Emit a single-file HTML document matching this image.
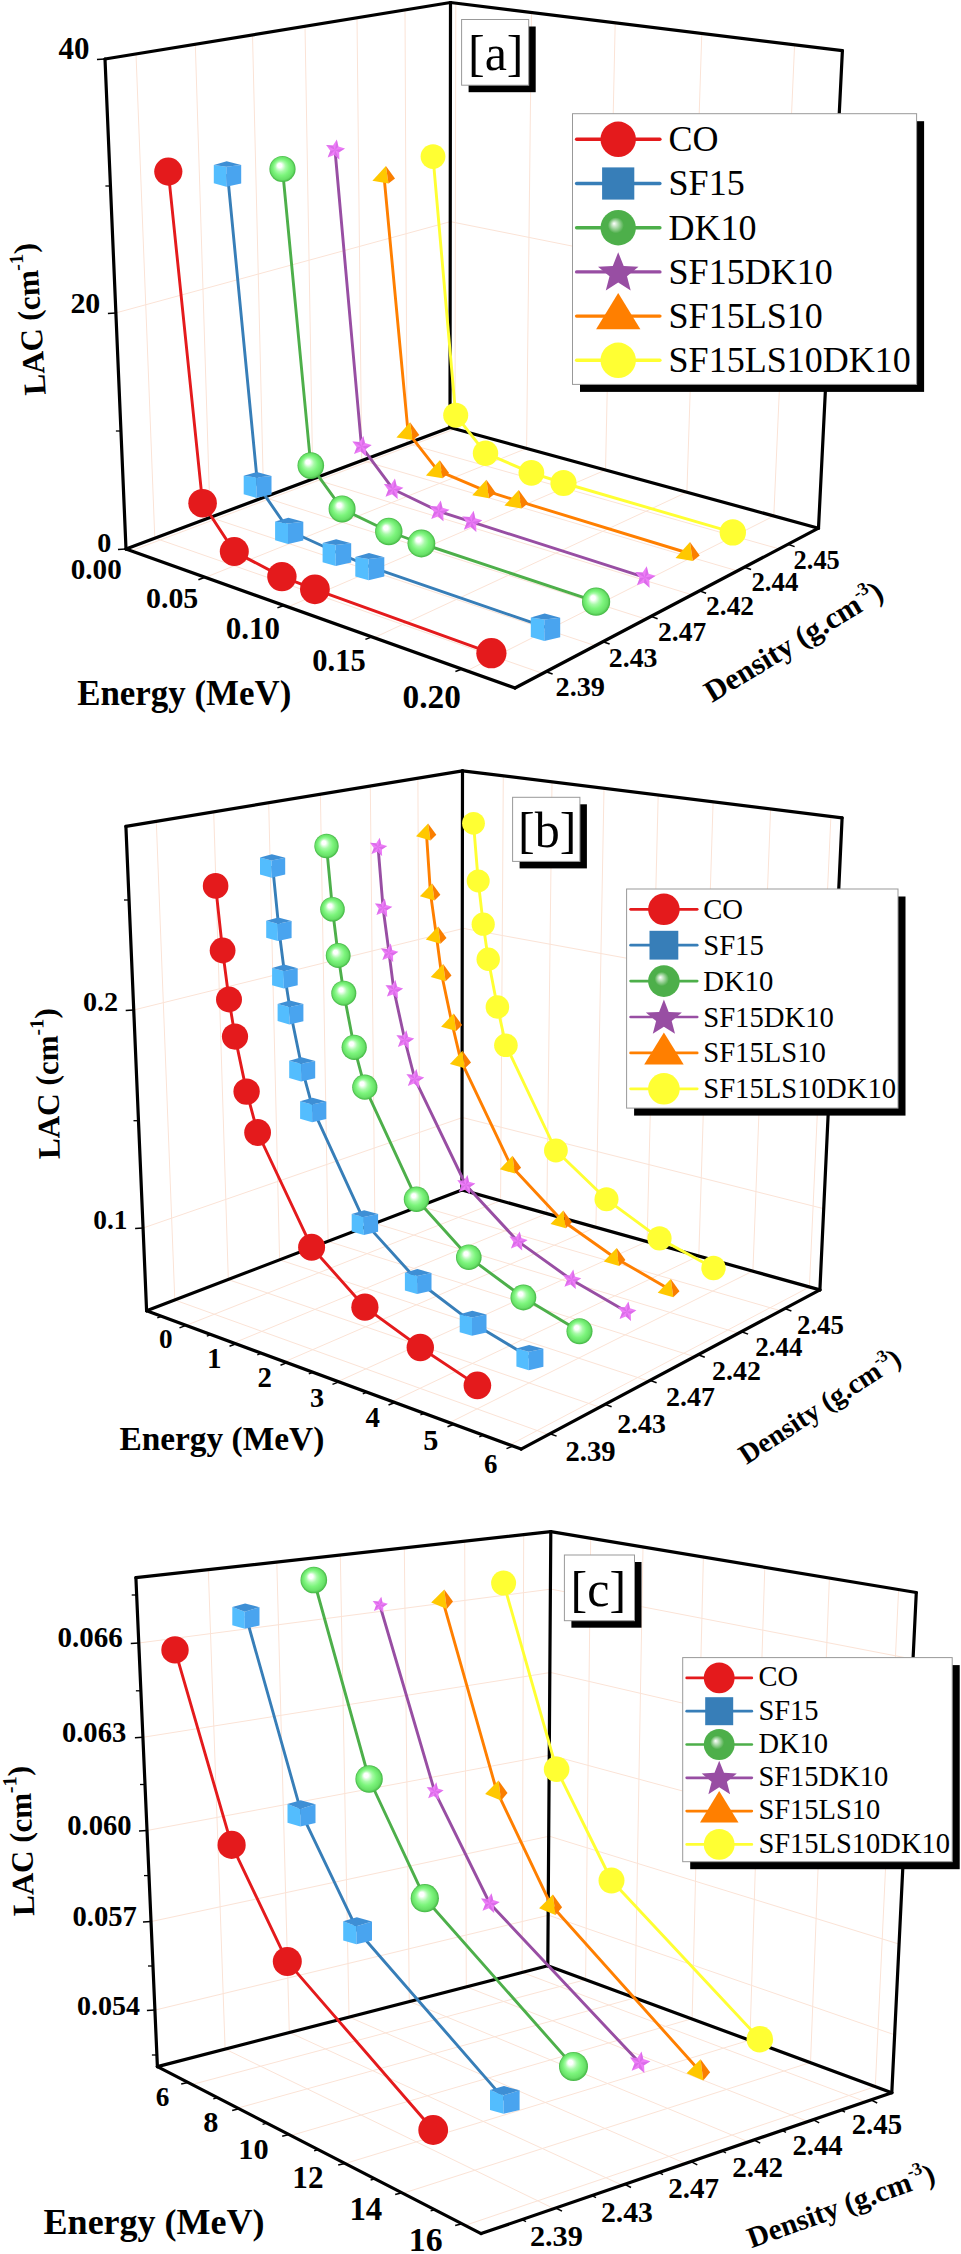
<!DOCTYPE html><html><head><meta charset="utf-8"><style>html,body{margin:0;padding:0;background:#fff;}svg{display:block;}</style></head><body><svg width="961" height="2254" viewBox="0 0 961 2254" style="font-family:&quot;Liberation Serif&quot;, serif">
<defs><radialGradient id="gs" cx="0.5" cy="0.5" r="0.5" fx="0.37" fy="0.34"><stop offset="0" stop-color="#ffffff"/><stop offset="0.16" stop-color="#ffffff"/><stop offset="0.4" stop-color="#A8FAA8"/><stop offset="0.62" stop-color="#7CF57C"/><stop offset="0.86" stop-color="#68E068"/><stop offset="1" stop-color="#42B542"/></radialGradient><radialGradient id="gl" cx="0.5" cy="0.5" r="0.5" fx="0.38" fy="0.38"><stop offset="0" stop-color="#ffffff"/><stop offset="0.22" stop-color="#A8D8A6"/><stop offset="0.45" stop-color="#4DAF4A"/><stop offset="1" stop-color="#4DAF4A"/></radialGradient></defs>
<rect width="961" height="2254" fill="#fff"/>
<line x1="131.2" y1="550.9" x2="455" y2="428.9" stroke="#FBE3D6" stroke-width="1" stroke-linecap="butt"/>
<line x1="455" y1="428.9" x2="455.8" y2="3.2" stroke="#FBE3D6" stroke-width="1" stroke-linecap="butt"/>
<line x1="205.5" y1="577.4" x2="526.6" y2="448.4" stroke="#FBE3D6" stroke-width="1" stroke-linecap="butt"/>
<line x1="526.6" y1="448.4" x2="531.5" y2="12.5" stroke="#FBE3D6" stroke-width="1" stroke-linecap="butt"/>
<line x1="288.1" y1="606.9" x2="605.5" y2="470" stroke="#FBE3D6" stroke-width="1" stroke-linecap="butt"/>
<line x1="605.5" y1="470" x2="615.2" y2="22.8" stroke="#FBE3D6" stroke-width="1" stroke-linecap="butt"/>
<line x1="374.1" y1="637.7" x2="686.9" y2="492.2" stroke="#FBE3D6" stroke-width="1" stroke-linecap="butt"/>
<line x1="686.9" y1="492.2" x2="701.8" y2="33.4" stroke="#FBE3D6" stroke-width="1" stroke-linecap="butt"/>
<line x1="466.9" y1="670.8" x2="773.8" y2="516" stroke="#FBE3D6" stroke-width="1" stroke-linecap="butt"/>
<line x1="773.8" y1="516" x2="794.6" y2="44.8" stroke="#FBE3D6" stroke-width="1" stroke-linecap="butt"/>
<line x1="154.9" y1="538.1" x2="542.7" y2="673.4" stroke="#FBE3D6" stroke-width="1" stroke-linecap="butt"/>
<line x1="154.8" y1="538.2" x2="136" y2="53.9" stroke="#FBE3D6" stroke-width="1" stroke-linecap="butt"/>
<line x1="210.4" y1="517.4" x2="595.3" y2="645.7" stroke="#FBE3D6" stroke-width="1" stroke-linecap="butt"/>
<line x1="210.1" y1="517.5" x2="195.3" y2="44.2" stroke="#FBE3D6" stroke-width="1" stroke-linecap="butt"/>
<line x1="264" y1="497.3" x2="645.9" y2="619.1" stroke="#FBE3D6" stroke-width="1" stroke-linecap="butt"/>
<line x1="263.6" y1="497.4" x2="252.5" y2="34.9" stroke="#FBE3D6" stroke-width="1" stroke-linecap="butt"/>
<line x1="313.2" y1="478.8" x2="692" y2="594.8" stroke="#FBE3D6" stroke-width="1" stroke-linecap="butt"/>
<line x1="312.8" y1="478.9" x2="305" y2="26.3" stroke="#FBE3D6" stroke-width="1" stroke-linecap="butt"/>
<line x1="362" y1="460.5" x2="737.4" y2="570.9" stroke="#FBE3D6" stroke-width="1" stroke-linecap="butt"/>
<line x1="361.7" y1="460.6" x2="357" y2="17.8" stroke="#FBE3D6" stroke-width="1" stroke-linecap="butt"/>
<line x1="407.2" y1="443.6" x2="779.1" y2="548.9" stroke="#FBE3D6" stroke-width="1" stroke-linecap="butt"/>
<line x1="407" y1="443.6" x2="405" y2="9.9" stroke="#FBE3D6" stroke-width="1" stroke-linecap="butt"/>
<line x1="105" y1="59" x2="450.5" y2="2.5" stroke="#FBE3D6" stroke-width="1" stroke-linecap="butt"/>
<line x1="450.5" y1="2.5" x2="842.4" y2="50.7" stroke="#FBE3D6" stroke-width="1" stroke-linecap="butt"/>
<line x1="115.9" y1="312.9" x2="450.2" y2="221.7" stroke="#FBE3D6" stroke-width="1" stroke-linecap="butt"/>
<line x1="450.2" y1="221.6" x2="830" y2="297.8" stroke="#FBE3D6" stroke-width="1" stroke-linecap="butt"/>
<line x1="126" y1="549" x2="450" y2="427.5" stroke="#FBE3D6" stroke-width="1" stroke-linecap="butt"/>
<line x1="450" y1="427.5" x2="818.5" y2="528.2" stroke="#FBE3D6" stroke-width="1" stroke-linecap="butt"/>
<line x1="105" y1="59" x2="97" y2="59.5" stroke="#000" stroke-width="1.5" stroke-linecap="butt"/>
<line x1="115.9" y1="312.9" x2="107.9" y2="313.4" stroke="#000" stroke-width="1.5" stroke-linecap="butt"/>
<line x1="126" y1="549" x2="118" y2="549.5" stroke="#000" stroke-width="1.5" stroke-linecap="butt"/>
<line x1="110.4" y1="186" x2="105.4" y2="186" stroke="#000" stroke-width="1.3" stroke-linecap="butt"/>
<line x1="120.9" y1="431" x2="115.9" y2="431" stroke="#000" stroke-width="1.3" stroke-linecap="butt"/>
<line x1="205" y1="577.2" x2="198.4" y2="579.7" stroke="#000" stroke-width="1.5" stroke-linecap="butt"/>
<line x1="284" y1="605.5" x2="277.4" y2="607.9" stroke="#000" stroke-width="1.5" stroke-linecap="butt"/>
<line x1="372" y1="636.9" x2="365.4" y2="639.4" stroke="#000" stroke-width="1.5" stroke-linecap="butt"/>
<line x1="462" y1="669.1" x2="455.4" y2="671.5" stroke="#000" stroke-width="1.5" stroke-linecap="butt"/>
<line x1="546" y1="671.7" x2="552.6" y2="674" stroke="#000" stroke-width="1.5" stroke-linecap="butt"/>
<line x1="603" y1="641.7" x2="609.6" y2="644" stroke="#000" stroke-width="1.5" stroke-linecap="butt"/>
<line x1="651" y1="616.4" x2="657.6" y2="618.7" stroke="#000" stroke-width="1.5" stroke-linecap="butt"/>
<line x1="699.5" y1="590.9" x2="706.1" y2="593.2" stroke="#000" stroke-width="1.5" stroke-linecap="butt"/>
<line x1="744.5" y1="567.2" x2="751.1" y2="569.5" stroke="#000" stroke-width="1.5" stroke-linecap="butt"/>
<line x1="788" y1="544.3" x2="794.6" y2="546.6" stroke="#000" stroke-width="1.5" stroke-linecap="butt"/>
<line x1="105" y1="59" x2="126" y2="549" stroke="#000" stroke-width="3.2" stroke-linecap="round"/>
<line x1="105" y1="59" x2="450.5" y2="2.5" stroke="#000" stroke-width="3.2" stroke-linecap="round"/>
<line x1="450.5" y1="2.5" x2="450" y2="427.5" stroke="#000" stroke-width="3.2" stroke-linecap="round"/>
<line x1="126" y1="549" x2="450" y2="427.5" stroke="#000" stroke-width="3.2" stroke-linecap="round"/>
<line x1="450.5" y1="2.5" x2="842.4" y2="50.7" stroke="#000" stroke-width="3.2" stroke-linecap="round"/>
<line x1="842.4" y1="50.7" x2="818.5" y2="528.2" stroke="#000" stroke-width="3.2" stroke-linecap="round"/>
<line x1="450" y1="427.5" x2="818.5" y2="528.2" stroke="#000" stroke-width="3.2" stroke-linecap="round"/>
<line x1="126" y1="549" x2="515" y2="688" stroke="#000" stroke-width="3.2" stroke-linecap="round"/>
<line x1="515" y1="688" x2="818.5" y2="528.2" stroke="#000" stroke-width="3.2" stroke-linecap="round"/>
<polyline points="433,156.6 455.7,415.2 485.5,453.2 531.4,472.8 563.5,483 732.8,532.4" fill="none" stroke="#FFFF33" stroke-width="2.9" stroke-linejoin="round"/>
<circle cx="433" cy="156.6" r="12.4" fill="#FFFF33"/>
<circle cx="455.7" cy="415.2" r="12.5" fill="#FFFF33"/>
<circle cx="485.5" cy="453.2" r="12.7" fill="#FFFF33"/>
<circle cx="531.4" cy="472.8" r="12.9" fill="#FFFF33"/>
<circle cx="563.5" cy="483" r="13.1" fill="#FFFF33"/>
<circle cx="732.8" cy="532.4" r="13.2" fill="#FFFF33"/>
<polyline points="384,176 408.1,432.6 437.8,470.6 484.4,490.4 516.7,500.6 687.9,553" fill="none" stroke="#FF7F00" stroke-width="2.9" stroke-linejoin="round"/>
<polygon points="385.9,165.9 372.4,180.7 388.5,183.4" fill="#FFC800"/>
<polygon points="385.9,165.9 388.5,183.4 395,178.4" fill="#FA7E00"/>
<polygon points="410.1,422.3 396.4,437.4 412.7,440.1" fill="#FFC800"/>
<polygon points="410.1,422.3 412.7,440.1 419.3,435" fill="#FA7E00"/>
<polygon points="439.8,460.2 425.9,475.5 442.5,478.2" fill="#FFC800"/>
<polygon points="439.8,460.2 442.5,478.2 449.1,473.1" fill="#FA7E00"/>
<polygon points="486.4,479.8 472.3,495.3 489.1,498.2" fill="#FFC800"/>
<polygon points="486.4,479.8 489.1,498.2 495.9,492.9" fill="#FA7E00"/>
<polygon points="518.7,489.9 504.4,505.6 521.5,508.5" fill="#FFC800"/>
<polygon points="518.7,489.9 521.5,508.5 528.3,503.2" fill="#FA7E00"/>
<polygon points="690,542.1 675.5,558.1 692.8,561" fill="#FFC800"/>
<polygon points="690,542.1 692.8,561 699.7,555.6" fill="#FA7E00"/>
<polyline points="335,150 361.5,446.6 393.1,489.2 438.9,511.3 471.7,521.9 644.8,577.4" fill="none" stroke="#984EA3" stroke-width="2.9" stroke-linejoin="round"/>
<polygon points="336.8,139.5 338.4,146.5 345,148.5 339.2,152.3 339.4,159.6 334.2,154.9 327.7,157.4 330.3,150.7 326.1,145 332.9,145.5" fill="#EE7DF8"/>
<polygon points="335,150 336.8,139.5 338.4,146.5" fill="#C458D6" opacity="0.45"/>
<polygon points="335,150 345,148.5 339.2,152.3" fill="#C458D6" opacity="0.45"/>
<polygon points="335,150 339.4,159.6 334.2,154.9" fill="#C458D6" opacity="0.45"/>
<polygon points="335,150 327.7,157.4 330.3,150.7" fill="#C458D6" opacity="0.45"/>
<polygon points="335,150 326.1,145 332.9,145.5" fill="#C458D6" opacity="0.45"/>
<polygon points="363.3,436 365,443.1 371.7,445.1 365.8,449 366,456.3 360.7,451.6 354.1,454.1 356.7,447.3 352.4,441.5 359.4,442" fill="#EE7DF8"/>
<polygon points="361.5,446.6 363.3,436 365,443.1" fill="#C458D6" opacity="0.45"/>
<polygon points="361.5,446.6 371.7,445.1 365.8,449" fill="#C458D6" opacity="0.45"/>
<polygon points="361.5,446.6 366,456.3 360.7,451.6" fill="#C458D6" opacity="0.45"/>
<polygon points="361.5,446.6 354.1,454.1 356.7,447.3" fill="#C458D6" opacity="0.45"/>
<polygon points="361.5,446.6 352.4,441.5 359.4,442" fill="#C458D6" opacity="0.45"/>
<polygon points="394.9,478.4 396.6,485.6 403.4,487.7 397.4,491.6 397.7,499 392.2,494.3 385.6,496.8 388.2,489.9 383.9,484.1 391,484.6" fill="#EE7DF8"/>
<polygon points="393.1,489.2 394.9,478.4 396.6,485.6" fill="#C458D6" opacity="0.45"/>
<polygon points="393.1,489.2 403.4,487.7 397.4,491.6" fill="#C458D6" opacity="0.45"/>
<polygon points="393.1,489.2 397.7,499 392.2,494.3" fill="#C458D6" opacity="0.45"/>
<polygon points="393.1,489.2 385.6,496.8 388.2,489.9" fill="#C458D6" opacity="0.45"/>
<polygon points="393.1,489.2 383.9,484.1 391,484.6" fill="#C458D6" opacity="0.45"/>
<polygon points="440.7,500.4 442.5,507.7 449.4,509.8 443.3,513.7 443.5,521.3 438,516.4 431.3,519 434,512 429.6,506.1 436.7,506.6" fill="#EE7DF8"/>
<polygon points="438.9,511.3 440.7,500.4 442.5,507.7" fill="#C458D6" opacity="0.45"/>
<polygon points="438.9,511.3 449.4,509.8 443.3,513.7" fill="#C458D6" opacity="0.45"/>
<polygon points="438.9,511.3 443.5,521.3 438,516.4" fill="#C458D6" opacity="0.45"/>
<polygon points="438.9,511.3 431.3,519 434,512" fill="#C458D6" opacity="0.45"/>
<polygon points="438.9,511.3 429.6,506.1 436.7,506.6" fill="#C458D6" opacity="0.45"/>
<polygon points="473.6,510.8 475.3,518.2 482.3,520.3 476.1,524.4 476.4,532 470.8,527.1 464,529.7 466.7,522.6 462.2,516.6 469.5,517.1" fill="#EE7DF8"/>
<polygon points="471.7,521.9 473.6,510.8 475.3,518.2" fill="#C458D6" opacity="0.45"/>
<polygon points="471.7,521.9 482.3,520.3 476.1,524.4" fill="#C458D6" opacity="0.45"/>
<polygon points="471.7,521.9 476.4,532 470.8,527.1" fill="#C458D6" opacity="0.45"/>
<polygon points="471.7,521.9 464,529.7 466.7,522.6" fill="#C458D6" opacity="0.45"/>
<polygon points="471.7,521.9 462.2,516.6 469.5,517.1" fill="#C458D6" opacity="0.45"/>
<polygon points="646.7,566.2 648.5,573.7 655.6,575.8 649.3,579.9 649.6,587.7 643.9,582.7 637,585.3 639.7,578.1 635.2,572 642.6,572.6" fill="#EE7DF8"/>
<polygon points="644.8,577.4 646.7,566.2 648.5,573.7" fill="#C458D6" opacity="0.45"/>
<polygon points="644.8,577.4 655.6,575.8 649.3,579.9" fill="#C458D6" opacity="0.45"/>
<polygon points="644.8,577.4 649.6,587.7 643.9,582.7" fill="#C458D6" opacity="0.45"/>
<polygon points="644.8,577.4 637,585.3 639.7,578.1" fill="#C458D6" opacity="0.45"/>
<polygon points="644.8,577.4 635.2,572 642.6,572.6" fill="#C458D6" opacity="0.45"/>
<polyline points="282.5,169 310.8,465.6 342.1,508.9 388.8,531.5 421.4,543.5 596.1,601.7" fill="none" stroke="#4DAF4A" stroke-width="2.9" stroke-linejoin="round"/>
<circle cx="282.5" cy="169" r="13.1" fill="url(#gs)"/>
<circle cx="310.8" cy="465.6" r="13.3" fill="url(#gs)"/>
<circle cx="342.1" cy="508.9" r="13.5" fill="url(#gs)"/>
<circle cx="388.8" cy="531.5" r="13.7" fill="url(#gs)"/>
<circle cx="421.4" cy="543.5" r="13.9" fill="url(#gs)"/>
<circle cx="596.1" cy="601.7" r="14.1" fill="url(#gs)"/>
<polyline points="227.5,174 257.6,484.9 289.2,530.8 336.9,552.5 369.8,566.6 545.5,627.2" fill="none" stroke="#377EB8" stroke-width="2.9" stroke-linejoin="round"/>
<polygon points="213.8,164.9 226.3,166.8 226.3,186.8 213.8,183.3" fill="#53BDFE"/>
<polygon points="226.3,166.8 241.2,165.1 241.2,183.5 226.3,186.8" fill="#49A4EF"/>
<polygon points="213.8,164.9 226.7,161.3 241.2,165.1 226.3,166.8" fill="#3E8FD5"/>
<polygon points="243.7,475.7 256.4,477.6 256.4,497.9 243.7,494.3" fill="#53BDFE"/>
<polygon points="256.4,477.6 271.5,475.9 271.5,494.5 256.4,497.9" fill="#49A4EF"/>
<polygon points="243.7,475.7 256.8,472 271.5,475.9 256.4,477.6" fill="#3E8FD5"/>
<polygon points="275.1,521.5 288,523.4 288,544 275.1,540.3" fill="#53BDFE"/>
<polygon points="288,523.4 303.3,521.7 303.3,540.5 288,544" fill="#49A4EF"/>
<polygon points="275.1,521.5 288.4,517.7 303.3,521.7 288,523.4" fill="#3E8FD5"/>
<polygon points="322.6,543 335.7,544.9 335.7,565.9 322.6,562.2" fill="#53BDFE"/>
<polygon points="335.7,544.9 351.2,543.2 351.2,562.4 335.7,565.9" fill="#49A4EF"/>
<polygon points="322.6,543 336.1,539.2 351.2,543.2 335.7,544.9" fill="#3E8FD5"/>
<polygon points="355.3,557 368.6,558.9 368.6,580.2 355.3,576.4" fill="#53BDFE"/>
<polygon points="368.6,558.9 384.3,557.2 384.3,576.6 368.6,580.2" fill="#49A4EF"/>
<polygon points="355.3,557 369,553.1 384.3,557.2 368.6,558.9" fill="#3E8FD5"/>
<polygon points="530.8,617.5 544.3,619.4 544.3,641 530.8,637.1" fill="#53BDFE"/>
<polygon points="544.3,619.4 560.2,617.7 560.2,637.3 544.3,641" fill="#49A4EF"/>
<polygon points="530.8,617.5 544.7,613.5 560.2,617.7 544.3,619.4" fill="#3E8FD5"/>
<polyline points="168.3,171.6 202.6,503.2 234.3,551.6 281.9,576.6 314.9,589.3 491.4,653.2" fill="none" stroke="#E41A1C" stroke-width="2.9" stroke-linejoin="round"/>
<circle cx="168.3" cy="171.6" r="14.1" fill="#E41A1C"/>
<circle cx="202.6" cy="503.2" r="14.3" fill="#E41A1C"/>
<circle cx="234.3" cy="551.6" r="14.5" fill="#E41A1C"/>
<circle cx="281.9" cy="576.6" r="14.7" fill="#E41A1C"/>
<circle cx="314.9" cy="589.3" r="14.9" fill="#E41A1C"/>
<circle cx="491.4" cy="653.2" r="15.1" fill="#E41A1C"/>
<text x="58.4" y="59" font-size="31" font-weight="bold" text-anchor="start">40</text>
<text x="70.4" y="313.4" font-size="29.9" font-weight="bold" text-anchor="start">20</text>
<text x="97.2" y="552.1" font-size="28.1" font-weight="bold" text-anchor="start">0</text>
<text x="70.8" y="579.1" font-size="29.1" font-weight="bold" text-anchor="start">0.00</text>
<text x="146" y="607.9" font-size="29.9" font-weight="bold" text-anchor="start">0.05</text>
<text x="225.7" y="638.6" font-size="31" font-weight="bold" text-anchor="start">0.10</text>
<text x="312.3" y="671.2" font-size="30.5" font-weight="bold" text-anchor="start">0.15</text>
<text x="402.6" y="708.3" font-size="33.3" font-weight="bold" text-anchor="start">0.20</text>
<text x="555.5" y="696.2" font-size="28.3" font-weight="bold" text-anchor="start">2.39</text>
<text x="608.8" y="667.2" font-size="27.8" font-weight="bold" text-anchor="start">2.43</text>
<text x="658.1" y="641.3" font-size="27.5" font-weight="bold" text-anchor="start">2.47</text>
<text x="706.1" y="614.6" font-size="27.4" font-weight="bold" text-anchor="start">2.42</text>
<text x="751.4" y="591.3" font-size="26.8" font-weight="bold" text-anchor="start">2.44</text>
<text x="793.6" y="569" font-size="26.4" font-weight="bold" text-anchor="start">2.45</text>
<text x="77.2" y="704.6" font-size="34.9" font-weight="bold" text-anchor="start">Energy (MeV)</text>
<text x="45.8" y="394.4" font-size="31.5" font-weight="bold" text-anchor="start" transform="rotate(-93.7 45.8 394.4)">LAC <tspan dy="-1">(</tspan><tspan dy="1">cm</tspan><tspan font-size="20" dy="-14">-1</tspan><tspan dy="13">)</tspan></text>
<text x="712" y="703" font-size="30.5" font-weight="bold" text-anchor="start" transform="rotate(-31.3 712 703)">Density (g.cm<tspan font-size="18" dy="-13">-3</tspan><tspan dy="13">)</tspan></text>
<rect x="580" y="121.2" width="344.1" height="270.7" fill="#000"/>
<rect x="572.5" y="113.7" width="344.1" height="270.7" fill="#fff" stroke="#999" stroke-width="1"/>
<line x1="576.6" y1="139.3" x2="659.9" y2="139.3" stroke="#E41A1C" stroke-width="3.4" stroke-linecap="round"/>
<circle cx="618.2" cy="139.3" r="17.7" fill="#E41A1C"/>
<text x="668.6" y="151.2" font-size="36" font-weight="normal" text-anchor="start">CO</text>
<line x1="576.6" y1="183.5" x2="659.9" y2="183.5" stroke="#377EB8" stroke-width="3.4" stroke-linecap="round"/>
<rect x="602.1" y="167.4" width="32.2" height="32.2" fill="#377EB8"/>
<text x="668.6" y="195.4" font-size="36" font-weight="normal" text-anchor="start">SF15</text>
<line x1="576.6" y1="227.7" x2="659.9" y2="227.7" stroke="#4DAF4A" stroke-width="3.4" stroke-linecap="round"/>
<circle cx="618.2" cy="227.7" r="17.7" fill="url(#gl)"/>
<text x="668.6" y="239.6" font-size="36" font-weight="normal" text-anchor="start">DK10</text>
<line x1="576.6" y1="271.9" x2="659.9" y2="271.9" stroke="#984EA3" stroke-width="3.4" stroke-linecap="round"/>
<polygon points="618.2,252.2 623.7,266 638.5,266.8 627,276.2 630.7,290.6 618.2,282.6 605.8,290.6 609.5,276.2 598,266.8 612.8,266" fill="#984EA3"/>
<text x="668.6" y="283.8" font-size="36" font-weight="normal" text-anchor="start">SF15DK10</text>
<line x1="576.6" y1="316.1" x2="659.9" y2="316.1" stroke="#FF7F00" stroke-width="3.4" stroke-linecap="round"/>
<polygon points="618.2,293.1 596.1,329.2 640.4,329.2" fill="#FF7F00"/>
<text x="668.6" y="328" font-size="36" font-weight="normal" text-anchor="start">SF15LS10</text>
<line x1="576.6" y1="360.3" x2="659.9" y2="360.3" stroke="#FFFF33" stroke-width="3.4" stroke-linecap="round"/>
<circle cx="618.2" cy="360.3" r="17.7" fill="#FFFF33"/>
<text x="668.6" y="372.2" font-size="36" font-weight="normal" text-anchor="start">SF15LS10DK10</text>
<rect x="468.6" y="26.5" width="67.1" height="65.7" fill="#000"/>
<rect x="461.6" y="19.5" width="67.1" height="65.7" fill="#fff" stroke="#999" stroke-width="1"/>
<text x="468" y="69.8" font-size="50" font-weight="normal" text-anchor="start">[a]</text>
<line x1="186.2" y1="1325.4" x2="500.5" y2="1200.7" stroke="#FBE3D6" stroke-width="1" stroke-linecap="butt"/>
<line x1="500.6" y1="1200.7" x2="503.3" y2="775.9" stroke="#FBE3D6" stroke-width="1" stroke-linecap="butt"/>
<line x1="233.7" y1="1343" x2="546.6" y2="1213.6" stroke="#FBE3D6" stroke-width="1" stroke-linecap="butt"/>
<line x1="546.8" y1="1213.6" x2="552" y2="781.9" stroke="#FBE3D6" stroke-width="1" stroke-linecap="butt"/>
<line x1="284.6" y1="1361.8" x2="595.7" y2="1227.3" stroke="#FBE3D6" stroke-width="1" stroke-linecap="butt"/>
<line x1="595.9" y1="1227.3" x2="604" y2="788.4" stroke="#FBE3D6" stroke-width="1" stroke-linecap="butt"/>
<line x1="338" y1="1381.5" x2="646.8" y2="1241.6" stroke="#FBE3D6" stroke-width="1" stroke-linecap="butt"/>
<line x1="647.1" y1="1241.6" x2="658.2" y2="795.1" stroke="#FBE3D6" stroke-width="1" stroke-linecap="butt"/>
<line x1="392.3" y1="1401.5" x2="698.6" y2="1256" stroke="#FBE3D6" stroke-width="1" stroke-linecap="butt"/>
<line x1="698.8" y1="1256.1" x2="713.1" y2="801.9" stroke="#FBE3D6" stroke-width="1" stroke-linecap="butt"/>
<line x1="449.5" y1="1422.7" x2="752.7" y2="1271.1" stroke="#FBE3D6" stroke-width="1" stroke-linecap="butt"/>
<line x1="752.9" y1="1271.2" x2="770.6" y2="809" stroke="#FBE3D6" stroke-width="1" stroke-linecap="butt"/>
<line x1="509.9" y1="1444.9" x2="809.4" y2="1287" stroke="#FBE3D6" stroke-width="1" stroke-linecap="butt"/>
<line x1="809.4" y1="1287" x2="830.9" y2="816.5" stroke="#FBE3D6" stroke-width="1" stroke-linecap="butt"/>
<line x1="174.8" y1="1300" x2="548.4" y2="1434.6" stroke="#FBE3D6" stroke-width="1" stroke-linecap="butt"/>
<line x1="174.8" y1="1300" x2="156.3" y2="821.4" stroke="#FBE3D6" stroke-width="1" stroke-linecap="butt"/>
<line x1="228.1" y1="1279.5" x2="599.7" y2="1407.2" stroke="#FBE3D6" stroke-width="1" stroke-linecap="butt"/>
<line x1="228.3" y1="1279.5" x2="213.7" y2="811.9" stroke="#FBE3D6" stroke-width="1" stroke-linecap="butt"/>
<line x1="279.5" y1="1259.8" x2="648.6" y2="1381.1" stroke="#FBE3D6" stroke-width="1" stroke-linecap="butt"/>
<line x1="279.6" y1="1259.8" x2="268.7" y2="802.8" stroke="#FBE3D6" stroke-width="1" stroke-linecap="butt"/>
<line x1="327.9" y1="1241.3" x2="694.5" y2="1356.7" stroke="#FBE3D6" stroke-width="1" stroke-linecap="butt"/>
<line x1="328.1" y1="1241.2" x2="320.4" y2="794.3" stroke="#FBE3D6" stroke-width="1" stroke-linecap="butt"/>
<line x1="374.8" y1="1223.3" x2="738.7" y2="1333.2" stroke="#FBE3D6" stroke-width="1" stroke-linecap="butt"/>
<line x1="374.9" y1="1223.2" x2="370.3" y2="786" stroke="#FBE3D6" stroke-width="1" stroke-linecap="butt"/>
<line x1="419.7" y1="1206.1" x2="780.7" y2="1310.8" stroke="#FBE3D6" stroke-width="1" stroke-linecap="butt"/>
<line x1="419.8" y1="1206.1" x2="417.9" y2="778.2" stroke="#FBE3D6" stroke-width="1" stroke-linecap="butt"/>
<line x1="133.7" y1="1010" x2="462.3" y2="928.7" stroke="#FBE3D6" stroke-width="1" stroke-linecap="butt"/>
<line x1="462.3" y1="928.2" x2="833.7" y2="996" stroke="#FBE3D6" stroke-width="1" stroke-linecap="butt"/>
<line x1="143.1" y1="1228" x2="462" y2="1117.7" stroke="#FBE3D6" stroke-width="1" stroke-linecap="butt"/>
<line x1="462" y1="1117.4" x2="823.7" y2="1208.7" stroke="#FBE3D6" stroke-width="1" stroke-linecap="butt"/>
<line x1="133.7" y1="1010" x2="125.7" y2="1010.5" stroke="#000" stroke-width="1.5" stroke-linecap="butt"/>
<line x1="143.1" y1="1228" x2="135.1" y2="1228.5" stroke="#000" stroke-width="1.5" stroke-linecap="butt"/>
<line x1="129" y1="900" x2="124" y2="900" stroke="#000" stroke-width="1.3" stroke-linecap="butt"/>
<line x1="138.5" y1="1120.7" x2="133.5" y2="1120.7" stroke="#000" stroke-width="1.3" stroke-linecap="butt"/>
<line x1="186" y1="1325.4" x2="179.5" y2="1327.9" stroke="#000" stroke-width="1.5" stroke-linecap="butt"/>
<line x1="236" y1="1343.8" x2="229.5" y2="1346.3" stroke="#000" stroke-width="1.5" stroke-linecap="butt"/>
<line x1="287" y1="1362.6" x2="280.5" y2="1365.2" stroke="#000" stroke-width="1.5" stroke-linecap="butt"/>
<line x1="339" y1="1381.9" x2="332.5" y2="1384.4" stroke="#000" stroke-width="1.5" stroke-linecap="butt"/>
<line x1="395" y1="1402.5" x2="388.5" y2="1405" stroke="#000" stroke-width="1.5" stroke-linecap="butt"/>
<line x1="454" y1="1424.3" x2="447.5" y2="1426.8" stroke="#000" stroke-width="1.5" stroke-linecap="butt"/>
<line x1="513" y1="1446.1" x2="506.5" y2="1448.6" stroke="#000" stroke-width="1.5" stroke-linecap="butt"/>
<line x1="161.5" y1="1316.3" x2="157.3" y2="1317.9" stroke="#000" stroke-width="1.3" stroke-linecap="butt"/>
<line x1="211" y1="1334.6" x2="206.8" y2="1336.2" stroke="#000" stroke-width="1.3" stroke-linecap="butt"/>
<line x1="261.5" y1="1353.2" x2="257.3" y2="1354.8" stroke="#000" stroke-width="1.3" stroke-linecap="butt"/>
<line x1="313" y1="1372.3" x2="308.8" y2="1373.9" stroke="#000" stroke-width="1.3" stroke-linecap="butt"/>
<line x1="367" y1="1392.2" x2="362.8" y2="1393.8" stroke="#000" stroke-width="1.3" stroke-linecap="butt"/>
<line x1="424.5" y1="1413.4" x2="420.3" y2="1415" stroke="#000" stroke-width="1.3" stroke-linecap="butt"/>
<line x1="483.5" y1="1435.2" x2="479.3" y2="1436.8" stroke="#000" stroke-width="1.3" stroke-linecap="butt"/>
<line x1="550" y1="1433.7" x2="556.6" y2="1436.1" stroke="#000" stroke-width="1.5" stroke-linecap="butt"/>
<line x1="605" y1="1404.4" x2="611.6" y2="1406.8" stroke="#000" stroke-width="1.5" stroke-linecap="butt"/>
<line x1="650" y1="1380.4" x2="656.6" y2="1382.8" stroke="#000" stroke-width="1.5" stroke-linecap="butt"/>
<line x1="698.2" y1="1354.7" x2="704.8" y2="1357.2" stroke="#000" stroke-width="1.5" stroke-linecap="butt"/>
<line x1="741.5" y1="1331.7" x2="748.1" y2="1334.1" stroke="#000" stroke-width="1.5" stroke-linecap="butt"/>
<line x1="784.8" y1="1308.6" x2="791.4" y2="1311" stroke="#000" stroke-width="1.5" stroke-linecap="butt"/>
<line x1="125.9" y1="826.4" x2="146.6" y2="1310.8" stroke="#000" stroke-width="3.2" stroke-linecap="round"/>
<line x1="125.9" y1="826.4" x2="462.5" y2="770.8" stroke="#000" stroke-width="3.2" stroke-linecap="round"/>
<line x1="462.5" y1="770.8" x2="461.9" y2="1189.9" stroke="#000" stroke-width="3.2" stroke-linecap="round"/>
<line x1="146.6" y1="1310.8" x2="461.9" y2="1189.9" stroke="#000" stroke-width="3.2" stroke-linecap="round"/>
<line x1="462.5" y1="770.8" x2="842.1" y2="817.9" stroke="#000" stroke-width="3.2" stroke-linecap="round"/>
<line x1="842.1" y1="817.9" x2="819.9" y2="1289.9" stroke="#000" stroke-width="3.2" stroke-linecap="round"/>
<line x1="461.9" y1="1189.9" x2="819.9" y2="1289.9" stroke="#000" stroke-width="3.2" stroke-linecap="round"/>
<line x1="146.6" y1="1310.8" x2="521.1" y2="1449.1" stroke="#000" stroke-width="3.2" stroke-linecap="round"/>
<line x1="521.1" y1="1449.1" x2="819.9" y2="1289.9" stroke="#000" stroke-width="3.2" stroke-linecap="round"/>
<polyline points="473.5,823.3 478.2,880.9 483.2,924.2 488.2,959.2 497.4,1007 505.9,1045.3 555.9,1150.5 606.5,1199.3 659.5,1238.4 713.5,1268" fill="none" stroke="#FFFF33" stroke-width="2.9" stroke-linejoin="round"/>
<circle cx="473.5" cy="823.3" r="11.4" fill="#FFFF33"/>
<circle cx="478.2" cy="880.9" r="11.5" fill="#FFFF33"/>
<circle cx="483.2" cy="924.2" r="11.6" fill="#FFFF33"/>
<circle cx="488.2" cy="959.2" r="11.7" fill="#FFFF33"/>
<circle cx="497.4" cy="1007" r="11.8" fill="#FFFF33"/>
<circle cx="505.9" cy="1045.3" r="11.8" fill="#FFFF33"/>
<circle cx="555.9" cy="1150.5" r="11.9" fill="#FFFF33"/>
<circle cx="606.5" cy="1199.3" r="12" fill="#FFFF33"/>
<circle cx="659.5" cy="1238.4" r="12.1" fill="#FFFF33"/>
<circle cx="713.5" cy="1268" r="12.2" fill="#FFFF33"/>
<polyline points="426.4,832.6 430.4,892.6 436.4,935.9 441.4,973.2 451.9,1022.9 460.7,1060.2 510.7,1165.4 561.5,1220 614.9,1257.7 668.9,1288.9" fill="none" stroke="#FF7F00" stroke-width="2.9" stroke-linejoin="round"/>
<polygon points="428.1,823.5 416,836.2 430.5,840.4" fill="#FFC800"/>
<polygon points="428.1,823.5 430.5,840.4 436.3,834.8" fill="#FA7E00"/>
<polygon points="432.2,883.4 419.9,896.3 434.5,900.5" fill="#FFC800"/>
<polygon points="432.2,883.4 434.5,900.5 440.4,894.8" fill="#FA7E00"/>
<polygon points="438.2,926.6 425.8,939.6 440.5,943.8" fill="#FFC800"/>
<polygon points="438.2,926.6 440.5,943.8 446.5,938.1" fill="#FA7E00"/>
<polygon points="443.2,963.9 430.7,976.9 445.6,981.2" fill="#FFC800"/>
<polygon points="443.2,963.9 445.6,981.2 451.5,975.4" fill="#FA7E00"/>
<polygon points="453.7,1013.5 441.1,1026.7 456.1,1031" fill="#FFC800"/>
<polygon points="453.7,1013.5 456.1,1031 462.1,1025.1" fill="#FA7E00"/>
<polygon points="462.5,1050.7 449.9,1064 464.9,1068.3" fill="#FFC800"/>
<polygon points="462.5,1050.7 464.9,1068.3 471,1062.5" fill="#FA7E00"/>
<polygon points="512.5,1155.8 499.8,1169.2 515,1173.6" fill="#FFC800"/>
<polygon points="512.5,1155.8 515,1173.6 521.1,1167.7" fill="#FA7E00"/>
<polygon points="563.3,1210.4 550.5,1223.9 565.8,1228.3" fill="#FFC800"/>
<polygon points="563.3,1210.4 565.8,1228.3 572,1222.3" fill="#FA7E00"/>
<polygon points="616.7,1248 603.8,1261.6 619.2,1266" fill="#FFC800"/>
<polygon points="616.7,1248 619.2,1266 625.4,1260" fill="#FA7E00"/>
<polygon points="670.8,1279.1 657.7,1292.8 673.3,1297.3" fill="#FFC800"/>
<polygon points="670.8,1279.1 673.3,1297.3 679.5,1291.2" fill="#FA7E00"/>
<polyline points="378.1,847.3 383.1,908.2 389.1,953.2 393.8,989.8 404.8,1040 414.8,1078.9 465.8,1185 518,1241.4 571.5,1279.7 626.7,1311.7" fill="none" stroke="#984EA3" stroke-width="2.9" stroke-linejoin="round"/>
<polygon points="379.7,837.8 381.2,844.2 387.2,846 381.9,849.4 382.1,856 377.4,851.8 371.5,854 373.8,847.9 370,842.8 376.2,843.2" fill="#EE7DF8"/>
<polygon points="378.1,847.3 379.7,837.8 381.2,844.2" fill="#C458D6" opacity="0.45"/>
<polygon points="378.1,847.3 387.2,846 381.9,849.4" fill="#C458D6" opacity="0.45"/>
<polygon points="378.1,847.3 382.1,856 377.4,851.8" fill="#C458D6" opacity="0.45"/>
<polygon points="378.1,847.3 371.5,854 373.8,847.9" fill="#C458D6" opacity="0.45"/>
<polygon points="378.1,847.3 370,842.8 376.2,843.2" fill="#C458D6" opacity="0.45"/>
<polygon points="384.7,898.6 386.2,905 392.3,906.8 386.9,910.3 387.2,916.9 382.3,912.7 376.5,914.9 378.8,908.8 374.9,903.6 381.2,904.1" fill="#EE7DF8"/>
<polygon points="383.1,908.2 384.7,898.6 386.2,905" fill="#C458D6" opacity="0.45"/>
<polygon points="383.1,908.2 392.3,906.8 386.9,910.3" fill="#C458D6" opacity="0.45"/>
<polygon points="383.1,908.2 387.2,916.9 382.3,912.7" fill="#C458D6" opacity="0.45"/>
<polygon points="383.1,908.2 376.5,914.9 378.8,908.8" fill="#C458D6" opacity="0.45"/>
<polygon points="383.1,908.2 374.9,903.6 381.2,904.1" fill="#C458D6" opacity="0.45"/>
<polygon points="390.7,943.6 392.2,950 398.3,951.8 393,955.4 393.2,962 388.3,957.7 382.4,960 384.8,953.8 380.9,948.6 387.2,949.1" fill="#EE7DF8"/>
<polygon points="389.1,953.2 390.7,943.6 392.2,950" fill="#C458D6" opacity="0.45"/>
<polygon points="389.1,953.2 398.3,951.8 393,955.4" fill="#C458D6" opacity="0.45"/>
<polygon points="389.1,953.2 393.2,962 388.3,957.7" fill="#C458D6" opacity="0.45"/>
<polygon points="389.1,953.2 382.4,960 384.8,953.8" fill="#C458D6" opacity="0.45"/>
<polygon points="389.1,953.2 380.9,948.6 387.2,949.1" fill="#C458D6" opacity="0.45"/>
<polygon points="395.4,980.1 397,986.6 403.1,988.4 397.7,992 397.9,998.7 393,994.4 387,996.6 389.4,990.4 385.5,985.2 391.9,985.6" fill="#EE7DF8"/>
<polygon points="393.8,989.8 395.4,980.1 397,986.6" fill="#C458D6" opacity="0.45"/>
<polygon points="393.8,989.8 403.1,988.4 397.7,992" fill="#C458D6" opacity="0.45"/>
<polygon points="393.8,989.8 397.9,998.7 393,994.4" fill="#C458D6" opacity="0.45"/>
<polygon points="393.8,989.8 387,996.6 389.4,990.4" fill="#C458D6" opacity="0.45"/>
<polygon points="393.8,989.8 385.5,985.2 391.9,985.6" fill="#C458D6" opacity="0.45"/>
<polygon points="406.4,1030.2 408,1036.8 414.2,1038.6 408.7,1042.2 408.9,1048.9 404,1044.6 398,1046.9 400.4,1040.6 396.4,1035.3 402.9,1035.8" fill="#EE7DF8"/>
<polygon points="404.8,1040 406.4,1030.2 408,1036.8" fill="#C458D6" opacity="0.45"/>
<polygon points="404.8,1040 414.2,1038.6 408.7,1042.2" fill="#C458D6" opacity="0.45"/>
<polygon points="404.8,1040 408.9,1048.9 404,1044.6" fill="#C458D6" opacity="0.45"/>
<polygon points="404.8,1040 398,1046.9 400.4,1040.6" fill="#C458D6" opacity="0.45"/>
<polygon points="404.8,1040 396.4,1035.3 402.9,1035.8" fill="#C458D6" opacity="0.45"/>
<polygon points="416.5,1069 418,1075.6 424.2,1077.5 418.8,1081.1 419,1087.9 414,1083.5 407.9,1085.9 410.4,1079.6 406.4,1074.2 412.8,1074.7" fill="#EE7DF8"/>
<polygon points="414.8,1078.9 416.5,1069 418,1075.6" fill="#C458D6" opacity="0.45"/>
<polygon points="414.8,1078.9 424.2,1077.5 418.8,1081.1" fill="#C458D6" opacity="0.45"/>
<polygon points="414.8,1078.9 419,1087.9 414,1083.5" fill="#C458D6" opacity="0.45"/>
<polygon points="414.8,1078.9 407.9,1085.9 410.4,1079.6" fill="#C458D6" opacity="0.45"/>
<polygon points="414.8,1078.9 406.4,1074.2 412.8,1074.7" fill="#C458D6" opacity="0.45"/>
<polygon points="467.5,1175.1 469,1181.7 475.3,1183.6 469.8,1187.2 470,1194.1 465,1189.7 458.9,1192 461.3,1185.7 457.3,1180.3 463.8,1180.7" fill="#EE7DF8"/>
<polygon points="465.8,1185 467.5,1175.1 469,1181.7" fill="#C458D6" opacity="0.45"/>
<polygon points="465.8,1185 475.3,1183.6 469.8,1187.2" fill="#C458D6" opacity="0.45"/>
<polygon points="465.8,1185 470,1194.1 465,1189.7" fill="#C458D6" opacity="0.45"/>
<polygon points="465.8,1185 458.9,1192 461.3,1185.7" fill="#C458D6" opacity="0.45"/>
<polygon points="465.8,1185 457.3,1180.3 463.8,1180.7" fill="#C458D6" opacity="0.45"/>
<polygon points="519.7,1231.4 521.3,1238.1 527.6,1240 522,1243.6 522.2,1250.5 517.2,1246.1 511,1248.5 513.5,1242.1 509.4,1236.6 516,1237.1" fill="#EE7DF8"/>
<polygon points="518,1241.4 519.7,1231.4 521.3,1238.1" fill="#C458D6" opacity="0.45"/>
<polygon points="518,1241.4 527.6,1240 522,1243.6" fill="#C458D6" opacity="0.45"/>
<polygon points="518,1241.4 522.2,1250.5 517.2,1246.1" fill="#C458D6" opacity="0.45"/>
<polygon points="518,1241.4 511,1248.5 513.5,1242.1" fill="#C458D6" opacity="0.45"/>
<polygon points="518,1241.4 509.4,1236.6 516,1237.1" fill="#C458D6" opacity="0.45"/>
<polygon points="573.2,1269.6 574.8,1276.4 581.2,1278.3 575.5,1282 575.8,1288.9 570.7,1284.4 564.5,1286.8 567,1280.4 562.9,1274.9 569.5,1275.4" fill="#EE7DF8"/>
<polygon points="571.5,1279.7 573.2,1269.6 574.8,1276.4" fill="#C458D6" opacity="0.45"/>
<polygon points="571.5,1279.7 581.2,1278.3 575.5,1282" fill="#C458D6" opacity="0.45"/>
<polygon points="571.5,1279.7 575.8,1288.9 570.7,1284.4" fill="#C458D6" opacity="0.45"/>
<polygon points="571.5,1279.7 564.5,1286.8 567,1280.4" fill="#C458D6" opacity="0.45"/>
<polygon points="571.5,1279.7 562.9,1274.9 569.5,1275.4" fill="#C458D6" opacity="0.45"/>
<polygon points="628.4,1301.5 630,1308.3 636.4,1310.3 630.8,1314 631,1321 625.9,1316.5 619.6,1318.9 622.1,1312.4 618,1306.9 624.7,1307.3" fill="#EE7DF8"/>
<polygon points="626.7,1311.7 628.4,1301.5 630,1308.3" fill="#C458D6" opacity="0.45"/>
<polygon points="626.7,1311.7 636.4,1310.3 630.8,1314" fill="#C458D6" opacity="0.45"/>
<polygon points="626.7,1311.7 631,1321 625.9,1316.5" fill="#C458D6" opacity="0.45"/>
<polygon points="626.7,1311.7 619.6,1318.9 622.1,1312.4" fill="#C458D6" opacity="0.45"/>
<polygon points="626.7,1311.7 618,1306.9 624.7,1307.3" fill="#C458D6" opacity="0.45"/>
<polyline points="326.5,846 332.5,909.2 338.2,955.5 343.8,993.2 354.2,1047.3 364.8,1087.2 416.5,1199.2 468.8,1257.2 523.4,1297.5 579.5,1331.2" fill="none" stroke="#4DAF4A" stroke-width="2.9" stroke-linejoin="round"/>
<circle cx="326.5" cy="846" r="12.2" fill="url(#gs)"/>
<circle cx="332.5" cy="909.2" r="12.3" fill="url(#gs)"/>
<circle cx="338.2" cy="955.5" r="12.4" fill="url(#gs)"/>
<circle cx="343.8" cy="993.2" r="12.5" fill="url(#gs)"/>
<circle cx="354.2" cy="1047.3" r="12.6" fill="url(#gs)"/>
<circle cx="364.8" cy="1087.2" r="12.6" fill="url(#gs)"/>
<circle cx="416.5" cy="1199.2" r="12.7" fill="url(#gs)"/>
<circle cx="468.8" cy="1257.2" r="12.8" fill="url(#gs)"/>
<circle cx="523.4" cy="1297.5" r="12.9" fill="url(#gs)"/>
<circle cx="579.5" cy="1331.2" r="13" fill="url(#gs)"/>
<polyline points="272.6,865.9 278.9,929.2 284.9,976.5 290.5,1012.4 302.2,1069.3 313.2,1109.9 364.9,1222.6 418.2,1281.5 473.1,1323.2 529.9,1357.5" fill="none" stroke="#377EB8" stroke-width="2.9" stroke-linejoin="round"/>
<polygon points="260,857.6 271.5,860.6 271.5,877.7 260,874.4" fill="#53BDFE"/>
<polygon points="271.5,860.6 285.2,857.7 285.2,874.6 271.5,877.7" fill="#49A4EF"/>
<polygon points="260,857.6 271.9,854.2 285.2,857.7 271.5,860.6" fill="#3E8FD5"/>
<polygon points="266.2,920.8 277.8,923.8 277.8,941.1 266.2,937.8" fill="#53BDFE"/>
<polygon points="277.8,923.8 291.6,921 291.6,938 277.8,941.1" fill="#49A4EF"/>
<polygon points="266.2,920.8 278.2,917.4 291.6,921 277.8,923.8" fill="#3E8FD5"/>
<polygon points="272.1,968 283.8,971.1 283.8,988.5 272.1,985.2" fill="#53BDFE"/>
<polygon points="283.8,971.1 297.7,968.2 297.7,985.3 283.8,988.5" fill="#49A4EF"/>
<polygon points="272.1,968 284.2,964.6 297.7,968.2 283.8,971.1" fill="#3E8FD5"/>
<polygon points="277.6,1003.9 289.4,1006.9 289.4,1024.5 277.6,1021.1" fill="#53BDFE"/>
<polygon points="289.4,1006.9 303.4,1004 303.4,1021.3 289.4,1024.5" fill="#49A4EF"/>
<polygon points="277.6,1003.9 289.8,1000.4 303.4,1004 289.4,1006.9" fill="#3E8FD5"/>
<polygon points="289.2,1060.7 301.1,1063.8 301.1,1081.5 289.2,1078.1" fill="#53BDFE"/>
<polygon points="301.1,1063.8 315.2,1060.9 315.2,1078.3 301.1,1081.5" fill="#49A4EF"/>
<polygon points="289.2,1060.7 301.5,1057.2 315.2,1060.9 301.1,1063.8" fill="#3E8FD5"/>
<polygon points="300.1,1101.2 312.1,1104.4 312.1,1122.2 300.1,1118.8" fill="#53BDFE"/>
<polygon points="312.1,1104.4 326.3,1101.4 326.3,1119 312.1,1122.2" fill="#49A4EF"/>
<polygon points="300.1,1101.2 312.5,1097.7 326.3,1101.4 312.1,1104.4" fill="#3E8FD5"/>
<polygon points="351.7,1213.9 363.8,1217 363.8,1235 351.7,1231.5" fill="#53BDFE"/>
<polygon points="363.8,1217 378.1,1214 378.1,1231.7 363.8,1235" fill="#49A4EF"/>
<polygon points="351.7,1213.9 364.2,1210.3 378.1,1214 363.8,1217" fill="#3E8FD5"/>
<polygon points="404.9,1272.7 417.1,1275.9 417.1,1294 404.9,1290.5" fill="#53BDFE"/>
<polygon points="417.1,1275.9 431.5,1272.9 431.5,1290.7 417.1,1294" fill="#49A4EF"/>
<polygon points="404.9,1272.7 417.4,1269.1 431.5,1272.9 417.1,1275.9" fill="#3E8FD5"/>
<polygon points="459.7,1314.3 472,1317.5 472,1335.8 459.7,1332.3" fill="#53BDFE"/>
<polygon points="472,1317.5 486.5,1314.5 486.5,1332.5 472,1335.8" fill="#49A4EF"/>
<polygon points="459.7,1314.3 472.3,1310.7 486.5,1314.5 472,1317.5" fill="#3E8FD5"/>
<polygon points="516.4,1348.5 528.8,1351.8 528.8,1370.2 516.4,1366.6" fill="#53BDFE"/>
<polygon points="528.8,1351.8 543.4,1348.7 543.4,1366.8 528.8,1370.2" fill="#49A4EF"/>
<polygon points="516.4,1348.5 529.1,1344.9 543.4,1348.7 528.8,1351.8" fill="#3E8FD5"/>
<polyline points="215.6,885.9 222.6,950.5 229,999.4 235,1036.6 246.6,1091.6 257.6,1132.5 311.6,1247.2 364.9,1307.2 420.3,1347.5 477.4,1385.4" fill="none" stroke="#E41A1C" stroke-width="2.9" stroke-linejoin="round"/>
<circle cx="215.6" cy="885.9" r="12.8" fill="#E41A1C"/>
<circle cx="222.6" cy="950.5" r="12.9" fill="#E41A1C"/>
<circle cx="229" cy="999.4" r="13" fill="#E41A1C"/>
<circle cx="235" cy="1036.6" r="13.1" fill="#E41A1C"/>
<circle cx="246.6" cy="1091.6" r="13.2" fill="#E41A1C"/>
<circle cx="257.6" cy="1132.5" r="13.4" fill="#E41A1C"/>
<circle cx="311.6" cy="1247.2" r="13.5" fill="#E41A1C"/>
<circle cx="364.9" cy="1307.2" r="13.6" fill="#E41A1C"/>
<circle cx="420.3" cy="1347.5" r="13.7" fill="#E41A1C"/>
<circle cx="477.4" cy="1385.4" r="13.8" fill="#E41A1C"/>
<text x="82.9" y="1010.5" font-size="28.2" font-weight="bold" text-anchor="start">0.2</text>
<text x="93.3" y="1229.4" font-size="27.4" font-weight="bold" text-anchor="start">0.1</text>
<text x="159.1" y="1348.3" font-size="27.2" font-weight="bold" text-anchor="start">0</text>
<text x="207" y="1368.1" font-size="29.2" font-weight="bold" text-anchor="start">1</text>
<text x="257.5" y="1387.1" font-size="28.8" font-weight="bold" text-anchor="start">2</text>
<text x="310" y="1406.8" font-size="28.2" font-weight="bold" text-anchor="start">3</text>
<text x="365.6" y="1427.2" font-size="28.9" font-weight="bold" text-anchor="start">4</text>
<text x="423.3" y="1449.6" font-size="30.3" font-weight="bold" text-anchor="start">5</text>
<text x="484.1" y="1472.6" font-size="26.9" font-weight="bold" text-anchor="start">6</text>
<text x="565.5" y="1461.2" font-size="28.6" font-weight="bold" text-anchor="start">2.39</text>
<text x="617.2" y="1432.9" font-size="27.8" font-weight="bold" text-anchor="start">2.43</text>
<text x="666.1" y="1406.2" font-size="28" font-weight="bold" text-anchor="start">2.47</text>
<text x="712.1" y="1380.3" font-size="27.9" font-weight="bold" text-anchor="start">2.42</text>
<text x="755.3" y="1356.3" font-size="26.9" font-weight="bold" text-anchor="start">2.44</text>
<text x="797" y="1333.7" font-size="26.8" font-weight="bold" text-anchor="start">2.45</text>
<text x="119.4" y="1450.1" font-size="33.4" font-weight="bold" text-anchor="start">Energy (MeV)</text>
<text x="59.8" y="1159.1" font-size="31.2" font-weight="bold" text-anchor="start" transform="rotate(-91 59.8 1159.1)">LAC <tspan dy="-1">(</tspan><tspan dy="1">cm</tspan><tspan font-size="20" dy="-14">-1</tspan><tspan dy="13">)</tspan></text>
<text x="746.5" y="1465" font-size="28" font-weight="bold" text-anchor="start" transform="rotate(-33 746.5 1465)">Density (g.cm<tspan font-size="17" dy="-12">-3</tspan><tspan dy="12">)</tspan></text>
<rect x="634.1" y="896.5" width="271.4" height="219.1" fill="#000"/>
<rect x="626.6" y="889" width="271.4" height="219.1" fill="#fff" stroke="#999" stroke-width="1"/>
<line x1="630.6" y1="909.3" x2="697.2" y2="909.3" stroke="#E41A1C" stroke-width="2.7" stroke-linecap="round"/>
<circle cx="663.9" cy="909.3" r="15.8" fill="#E41A1C"/>
<text x="703.2" y="918.8" font-size="28.7" font-weight="normal" text-anchor="start">CO</text>
<line x1="630.6" y1="945.2" x2="697.2" y2="945.2" stroke="#377EB8" stroke-width="2.7" stroke-linecap="round"/>
<rect x="649.5" y="930.8" width="28.8" height="28.8" fill="#377EB8"/>
<text x="703.2" y="954.7" font-size="28.7" font-weight="normal" text-anchor="start">SF15</text>
<line x1="630.6" y1="981.1" x2="697.2" y2="981.1" stroke="#4DAF4A" stroke-width="2.7" stroke-linecap="round"/>
<circle cx="663.9" cy="981.1" r="15.8" fill="url(#gl)"/>
<text x="703.2" y="990.6" font-size="28.7" font-weight="normal" text-anchor="start">DK10</text>
<line x1="630.6" y1="1017" x2="697.2" y2="1017" stroke="#984EA3" stroke-width="2.7" stroke-linecap="round"/>
<polygon points="663.9,999.5 668.7,1011.9 681.9,1012.6 671.7,1021 675,1033.8 663.9,1026.7 652.8,1033.8 656.1,1021 645.9,1012.6 659.1,1011.9" fill="#984EA3"/>
<text x="703.2" y="1026.5" font-size="28.7" font-weight="normal" text-anchor="start">SF15DK10</text>
<line x1="630.6" y1="1052.9" x2="697.2" y2="1052.9" stroke="#FF7F00" stroke-width="2.7" stroke-linecap="round"/>
<polygon points="663.9,1032.4 644.2,1064.6 683.7,1064.6" fill="#FF7F00"/>
<text x="703.2" y="1062.4" font-size="28.7" font-weight="normal" text-anchor="start">SF15LS10</text>
<line x1="630.6" y1="1088.8" x2="697.2" y2="1088.8" stroke="#FFFF33" stroke-width="2.7" stroke-linecap="round"/>
<circle cx="663.9" cy="1088.8" r="15.8" fill="#FFFF33"/>
<text x="703.2" y="1098.3" font-size="28.7" font-weight="normal" text-anchor="start">SF15LS10DK10</text>
<rect x="519.6" y="804.3" width="67.3" height="64.1" fill="#000"/>
<rect x="512.6" y="797.3" width="67.3" height="64.1" fill="#fff" stroke="#999" stroke-width="1"/>
<text x="518.1" y="846.5" font-size="50" font-weight="normal" text-anchor="start">[b]</text>
<line x1="192.1" y1="2084.5" x2="585.4" y2="1979.7" stroke="#FBE3D6" stroke-width="1" stroke-linecap="butt"/>
<line x1="585.6" y1="1979.8" x2="590.7" y2="1538.2" stroke="#FBE3D6" stroke-width="1" stroke-linecap="butt"/>
<line x1="237.8" y1="2108.1" x2="634.7" y2="1997.9" stroke="#FBE3D6" stroke-width="1" stroke-linecap="butt"/>
<line x1="635.1" y1="1998" x2="643" y2="1547" stroke="#FBE3D6" stroke-width="1" stroke-linecap="butt"/>
<line x1="290.9" y1="2135.5" x2="691.6" y2="2018.8" stroke="#FBE3D6" stroke-width="1" stroke-linecap="butt"/>
<line x1="692.1" y1="2019" x2="703.4" y2="1557" stroke="#FBE3D6" stroke-width="1" stroke-linecap="butt"/>
<line x1="345.3" y1="2163.5" x2="749.4" y2="2040.2" stroke="#FBE3D6" stroke-width="1" stroke-linecap="butt"/>
<line x1="749.9" y1="2040.4" x2="764.8" y2="1567.3" stroke="#FBE3D6" stroke-width="1" stroke-linecap="butt"/>
<line x1="402.9" y1="2193.3" x2="810.1" y2="2062.6" stroke="#FBE3D6" stroke-width="1" stroke-linecap="butt"/>
<line x1="810.5" y1="2062.7" x2="829.4" y2="1578" stroke="#FBE3D6" stroke-width="1" stroke-linecap="butt"/>
<line x1="465.1" y1="2225.4" x2="875.2" y2="2086.6" stroke="#FBE3D6" stroke-width="1" stroke-linecap="butt"/>
<line x1="875.3" y1="2086.6" x2="898.6" y2="1589.6" stroke="#FBE3D6" stroke-width="1" stroke-linecap="butt"/>
<line x1="225.3" y1="2049.1" x2="553.8" y2="2208.6" stroke="#FBE3D6" stroke-width="1" stroke-linecap="butt"/>
<line x1="225.1" y1="2049.1" x2="208.3" y2="1569.7" stroke="#FBE3D6" stroke-width="1" stroke-linecap="butt"/>
<line x1="289.6" y1="2032.5" x2="622.2" y2="2185.2" stroke="#FBE3D6" stroke-width="1" stroke-linecap="butt"/>
<line x1="289.3" y1="2032.5" x2="276.8" y2="1562" stroke="#FBE3D6" stroke-width="1" stroke-linecap="butt"/>
<line x1="349.3" y1="2017.1" x2="685.3" y2="2163.5" stroke="#FBE3D6" stroke-width="1" stroke-linecap="butt"/>
<line x1="349" y1="2017.1" x2="340.3" y2="1555" stroke="#FBE3D6" stroke-width="1" stroke-linecap="butt"/>
<line x1="409.5" y1="2001.5" x2="748.5" y2="2141.9" stroke="#FBE3D6" stroke-width="1" stroke-linecap="butt"/>
<line x1="409.3" y1="2001.6" x2="404.3" y2="1547.9" stroke="#FBE3D6" stroke-width="1" stroke-linecap="butt"/>
<line x1="466.5" y1="1986.8" x2="807.8" y2="2121.5" stroke="#FBE3D6" stroke-width="1" stroke-linecap="butt"/>
<line x1="466.3" y1="1986.8" x2="464.7" y2="1541.2" stroke="#FBE3D6" stroke-width="1" stroke-linecap="butt"/>
<line x1="522.2" y1="1972.4" x2="865.4" y2="2101.7" stroke="#FBE3D6" stroke-width="1" stroke-linecap="butt"/>
<line x1="522.1" y1="1972.4" x2="523.7" y2="1534.6" stroke="#FBE3D6" stroke-width="1" stroke-linecap="butt"/>
<line x1="138.8" y1="1643" x2="550.4" y2="1589.2" stroke="#FBE3D6" stroke-width="1" stroke-linecap="butt"/>
<line x1="550.4" y1="1589" x2="913" y2="1659.2" stroke="#FBE3D6" stroke-width="1" stroke-linecap="butt"/>
<line x1="142.9" y1="1737.3" x2="549.8" y2="1672.6" stroke="#FBE3D6" stroke-width="1" stroke-linecap="butt"/>
<line x1="549.8" y1="1672.3" x2="908.3" y2="1755.5" stroke="#FBE3D6" stroke-width="1" stroke-linecap="butt"/>
<line x1="147" y1="1830.5" x2="549.3" y2="1755.3" stroke="#FBE3D6" stroke-width="1" stroke-linecap="butt"/>
<line x1="549.3" y1="1754.9" x2="903.6" y2="1850.8" stroke="#FBE3D6" stroke-width="1" stroke-linecap="butt"/>
<line x1="151" y1="1921.6" x2="548.7" y2="1836.3" stroke="#FBE3D6" stroke-width="1" stroke-linecap="butt"/>
<line x1="548.7" y1="1836" x2="899.1" y2="1944.1" stroke="#FBE3D6" stroke-width="1" stroke-linecap="butt"/>
<line x1="154.9" y1="2010.1" x2="548.1" y2="1915.3" stroke="#FBE3D6" stroke-width="1" stroke-linecap="butt"/>
<line x1="548.2" y1="1915.1" x2="894.6" y2="2034.8" stroke="#FBE3D6" stroke-width="1" stroke-linecap="butt"/>
<line x1="138.8" y1="1643" x2="130.8" y2="1643.5" stroke="#000" stroke-width="1.5" stroke-linecap="butt"/>
<line x1="142.9" y1="1737.3" x2="134.9" y2="1737.8" stroke="#000" stroke-width="1.5" stroke-linecap="butt"/>
<line x1="147" y1="1830.5" x2="139" y2="1831" stroke="#000" stroke-width="1.5" stroke-linecap="butt"/>
<line x1="151" y1="1921.6" x2="143" y2="1922.1" stroke="#000" stroke-width="1.5" stroke-linecap="butt"/>
<line x1="154.9" y1="2010.1" x2="146.9" y2="2010.6" stroke="#000" stroke-width="1.5" stroke-linecap="butt"/>
<line x1="136.7" y1="1595" x2="131.7" y2="1595" stroke="#000" stroke-width="1.3" stroke-linecap="butt"/>
<line x1="140.9" y1="1690.8" x2="135.9" y2="1690.8" stroke="#000" stroke-width="1.3" stroke-linecap="butt"/>
<line x1="145" y1="1784.5" x2="140" y2="1784.5" stroke="#000" stroke-width="1.3" stroke-linecap="butt"/>
<line x1="149" y1="1875.6" x2="144" y2="1875.6" stroke="#000" stroke-width="1.3" stroke-linecap="butt"/>
<line x1="153" y1="1966" x2="148" y2="1966" stroke="#000" stroke-width="1.3" stroke-linecap="butt"/>
<line x1="156.9" y1="2055" x2="151.9" y2="2055" stroke="#000" stroke-width="1.3" stroke-linecap="butt"/>
<line x1="188" y1="2082.4" x2="181.2" y2="2084.1" stroke="#000" stroke-width="1.5" stroke-linecap="butt"/>
<line x1="239" y1="2108.7" x2="232.2" y2="2110.4" stroke="#000" stroke-width="1.5" stroke-linecap="butt"/>
<line x1="289" y1="2134.5" x2="282.2" y2="2136.2" stroke="#000" stroke-width="1.5" stroke-linecap="butt"/>
<line x1="345" y1="2163.4" x2="338.2" y2="2165.1" stroke="#000" stroke-width="1.5" stroke-linecap="butt"/>
<line x1="402" y1="2192.8" x2="395.2" y2="2194.5" stroke="#000" stroke-width="1.5" stroke-linecap="butt"/>
<line x1="462" y1="2223.7" x2="455.2" y2="2225.5" stroke="#000" stroke-width="1.5" stroke-linecap="butt"/>
<line x1="217.7" y1="2097.7" x2="213.3" y2="2098.8" stroke="#000" stroke-width="1.3" stroke-linecap="butt"/>
<line x1="267" y1="2123.1" x2="262.6" y2="2124.3" stroke="#000" stroke-width="1.3" stroke-linecap="butt"/>
<line x1="318.5" y1="2149.7" x2="314.1" y2="2150.8" stroke="#000" stroke-width="1.3" stroke-linecap="butt"/>
<line x1="375" y1="2178.9" x2="370.6" y2="2180" stroke="#000" stroke-width="1.3" stroke-linecap="butt"/>
<line x1="435" y1="2209.8" x2="430.6" y2="2210.9" stroke="#000" stroke-width="1.3" stroke-linecap="butt"/>
<line x1="522" y1="2219.6" x2="526" y2="2221.6" stroke="#000" stroke-width="1.3" stroke-linecap="butt"/>
<line x1="592" y1="2195.6" x2="596" y2="2197.6" stroke="#000" stroke-width="1.3" stroke-linecap="butt"/>
<line x1="659" y1="2172.6" x2="663" y2="2174.6" stroke="#000" stroke-width="1.3" stroke-linecap="butt"/>
<line x1="722" y1="2151" x2="726" y2="2153" stroke="#000" stroke-width="1.3" stroke-linecap="butt"/>
<line x1="782" y1="2130.4" x2="786" y2="2132.4" stroke="#000" stroke-width="1.3" stroke-linecap="butt"/>
<line x1="841" y1="2110.1" x2="845" y2="2112.2" stroke="#000" stroke-width="1.3" stroke-linecap="butt"/>
<line x1="555.8" y1="2208" x2="562" y2="2211.2" stroke="#000" stroke-width="1.5" stroke-linecap="butt"/>
<line x1="624.8" y1="2184.3" x2="631" y2="2187.5" stroke="#000" stroke-width="1.5" stroke-linecap="butt"/>
<line x1="691.1" y1="2161.6" x2="697.3" y2="2164.8" stroke="#000" stroke-width="1.5" stroke-linecap="butt"/>
<line x1="754" y1="2140" x2="760.2" y2="2143.2" stroke="#000" stroke-width="1.5" stroke-linecap="butt"/>
<line x1="813" y1="2119.7" x2="819.2" y2="2122.9" stroke="#000" stroke-width="1.5" stroke-linecap="butt"/>
<line x1="871" y1="2099.8" x2="877.2" y2="2103" stroke="#000" stroke-width="1.5" stroke-linecap="butt"/>
<line x1="135.9" y1="1577.7" x2="157.4" y2="2066.6" stroke="#000" stroke-width="3.2" stroke-linecap="round"/>
<line x1="135.9" y1="1577.7" x2="550.8" y2="1531.6" stroke="#000" stroke-width="3.2" stroke-linecap="round"/>
<line x1="550.8" y1="1531.6" x2="547.8" y2="1965.8" stroke="#000" stroke-width="3.2" stroke-linecap="round"/>
<line x1="157.4" y1="2066.6" x2="547.8" y2="1965.8" stroke="#000" stroke-width="3.2" stroke-linecap="round"/>
<line x1="550.8" y1="1531.6" x2="916.3" y2="1592.5" stroke="#000" stroke-width="3.2" stroke-linecap="round"/>
<line x1="916.3" y1="1592.5" x2="891.8" y2="2092.7" stroke="#000" stroke-width="3.2" stroke-linecap="round"/>
<line x1="547.8" y1="1965.8" x2="891.8" y2="2092.7" stroke="#000" stroke-width="3.2" stroke-linecap="round"/>
<line x1="157.4" y1="2066.6" x2="481.1" y2="2233.6" stroke="#000" stroke-width="3.2" stroke-linecap="round"/>
<line x1="481.1" y1="2233.6" x2="891.8" y2="2092.7" stroke="#000" stroke-width="3.2" stroke-linecap="round"/>
<polyline points="503.6,1583.1 556.6,1769.3 611.5,1880.5 759.8,2039.2" fill="none" stroke="#FFFF33" stroke-width="2.9" stroke-linejoin="round"/>
<circle cx="503.6" cy="1583.1" r="12.5" fill="#FFFF33"/>
<circle cx="556.6" cy="1769.3" r="12.8" fill="#FFFF33"/>
<circle cx="611.5" cy="1880.5" r="13" fill="#FFFF33"/>
<circle cx="759.8" cy="2039.2" r="13.3" fill="#FFFF33"/>
<polyline points="442.4,1599.3 496.6,1790.6 550.9,1904.8 698.6,2069.8" fill="none" stroke="#FF7F00" stroke-width="2.9" stroke-linejoin="round"/>
<polygon points="444.3,1589.5 431.2,1602.6 446.8,1609.1" fill="#FFC800"/>
<polygon points="444.3,1589.5 446.8,1609.1 453,1601.6" fill="#FA7E00"/>
<polygon points="498.5,1780.6 485.1,1793.9 501.1,1800.6" fill="#FFC800"/>
<polygon points="498.5,1780.6 501.1,1800.6 507.5,1793" fill="#FA7E00"/>
<polygon points="552.9,1894.5 539.1,1908.2 555.5,1915.1" fill="#FFC800"/>
<polygon points="552.9,1894.5 555.5,1915.1 562.1,1907.3" fill="#FA7E00"/>
<polygon points="700.6,2059.2 686.5,2073.3 703.3,2080.4" fill="#FFC800"/>
<polygon points="700.6,2059.2 703.3,2080.4 710.1,2072.3" fill="#FA7E00"/>
<polyline points="379.8,1605 434.7,1791.6 489.8,1903.5 639.6,2062.8" fill="none" stroke="#984EA3" stroke-width="2.9" stroke-linejoin="round"/>
<polygon points="381.2,1596.7 382.5,1602.2 387.8,1603.8 383.2,1606.9 383.3,1612.6 379.1,1608.9 374,1610.9 376,1605.6 372.7,1601 378.1,1601.4" fill="#EE7DF8"/>
<polygon points="379.8,1605 381.2,1596.7 382.5,1602.2" fill="#C458D6" opacity="0.45"/>
<polygon points="379.8,1605 387.8,1603.8 383.2,1606.9" fill="#C458D6" opacity="0.45"/>
<polygon points="379.8,1605 383.3,1612.6 379.1,1608.9" fill="#C458D6" opacity="0.45"/>
<polygon points="379.8,1605 374,1610.9 376,1605.6" fill="#C458D6" opacity="0.45"/>
<polygon points="379.8,1605 372.7,1601 378.1,1601.4" fill="#C458D6" opacity="0.45"/>
<polygon points="436.3,1782.3 437.8,1788.5 443.6,1790.3 438.4,1793.7 438.7,1800.1 434,1796 428.2,1798.2 430.5,1792.2 426.7,1787.2 432.8,1787.6" fill="#EE7DF8"/>
<polygon points="434.7,1791.6 436.3,1782.3 437.8,1788.5" fill="#C458D6" opacity="0.45"/>
<polygon points="434.7,1791.6 443.6,1790.3 438.4,1793.7" fill="#C458D6" opacity="0.45"/>
<polygon points="434.7,1791.6 438.7,1800.1 434,1796" fill="#C458D6" opacity="0.45"/>
<polygon points="434.7,1791.6 428.2,1798.2 430.5,1792.2" fill="#C458D6" opacity="0.45"/>
<polygon points="434.7,1791.6 426.7,1787.2 432.8,1787.6" fill="#C458D6" opacity="0.45"/>
<polygon points="491.5,1893.2 493.2,1900.1 499.7,1902 493.9,1905.8 494.2,1912.9 489,1908.3 482.6,1910.8 485.2,1904.2 481,1898.6 487.7,1899.1" fill="#EE7DF8"/>
<polygon points="489.8,1903.5 491.5,1893.2 493.2,1900.1" fill="#C458D6" opacity="0.45"/>
<polygon points="489.8,1903.5 499.7,1902 493.9,1905.8" fill="#C458D6" opacity="0.45"/>
<polygon points="489.8,1903.5 494.2,1912.9 489,1908.3" fill="#C458D6" opacity="0.45"/>
<polygon points="489.8,1903.5 482.6,1910.8 485.2,1904.2" fill="#C458D6" opacity="0.45"/>
<polygon points="489.8,1903.5 481,1898.6 487.7,1899.1" fill="#C458D6" opacity="0.45"/>
<polygon points="641.5,2051.5 643.3,2059.1 650.4,2061.2 644.1,2065.3 644.4,2073.1 638.7,2068.1 631.7,2070.8 634.5,2063.6 630,2057.4 637.3,2058" fill="#EE7DF8"/>
<polygon points="639.6,2062.8 641.5,2051.5 643.3,2059.1" fill="#C458D6" opacity="0.45"/>
<polygon points="639.6,2062.8 650.4,2061.2 644.1,2065.3" fill="#C458D6" opacity="0.45"/>
<polygon points="639.6,2062.8 644.4,2073.1 638.7,2068.1" fill="#C458D6" opacity="0.45"/>
<polygon points="639.6,2062.8 631.7,2070.8 634.5,2063.6" fill="#C458D6" opacity="0.45"/>
<polygon points="639.6,2062.8 630,2057.4 637.3,2058" fill="#C458D6" opacity="0.45"/>
<polyline points="313.8,1580 369.1,1779 424.8,1898.2 573.5,2066.4" fill="none" stroke="#4DAF4A" stroke-width="2.9" stroke-linejoin="round"/>
<circle cx="313.8" cy="1580" r="13.3" fill="url(#gs)"/>
<circle cx="369.1" cy="1779" r="13.7" fill="url(#gs)"/>
<circle cx="424.8" cy="1898.2" r="14.1" fill="url(#gs)"/>
<circle cx="573.5" cy="2066.4" r="14.5" fill="url(#gs)"/>
<polyline points="245.9,1616 301.5,1813.3 357.6,1930.7 504.8,2099.9" fill="none" stroke="#377EB8" stroke-width="2.9" stroke-linejoin="round"/>
<polygon points="232.3,1607 244.8,1611.8 244.8,1628.7 232.3,1625.2" fill="#53BDFE"/>
<polygon points="244.8,1611.8 259.5,1607.2 259.5,1625.4 244.8,1628.7" fill="#49A4EF"/>
<polygon points="232.3,1607 245.1,1603.4 259.5,1607.2 244.8,1611.8" fill="#3E8FD5"/>
<polygon points="287.5,1804 300.3,1809 300.3,1826.4 287.5,1822.8" fill="#53BDFE"/>
<polygon points="300.3,1809 315.5,1804.2 315.5,1823 300.3,1826.4" fill="#49A4EF"/>
<polygon points="287.5,1804 300.7,1800.3 315.5,1804.2 300.3,1809" fill="#3E8FD5"/>
<polygon points="343.2,1921.2 356.4,1926.2 356.4,1944.2 343.2,1940.4" fill="#53BDFE"/>
<polygon points="356.4,1926.2 372,1921.4 372,1940.6 356.4,1944.2" fill="#49A4EF"/>
<polygon points="343.2,1921.2 356.8,1917.3 372,1921.4 356.4,1926.2" fill="#3E8FD5"/>
<polygon points="490,2090.1 503.5,2095.3 503.5,2113.8 490,2109.9" fill="#53BDFE"/>
<polygon points="503.5,2095.3 519.6,2090.3 519.6,2110.1 503.5,2113.8" fill="#49A4EF"/>
<polygon points="490,2090.1 504,2086.1 519.6,2090.3 503.5,2095.3" fill="#3E8FD5"/>
<polyline points="175,1649.9 231.6,1844.9 287.3,1961.6 433.2,2130" fill="none" stroke="#E41A1C" stroke-width="2.9" stroke-linejoin="round"/>
<circle cx="175" cy="1649.9" r="13.7" fill="#E41A1C"/>
<circle cx="231.6" cy="1844.9" r="14.1" fill="#E41A1C"/>
<circle cx="287.3" cy="1961.6" r="14.5" fill="#E41A1C"/>
<circle cx="433.2" cy="2130" r="14.9" fill="#E41A1C"/>
<text x="57.5" y="1646.6" font-size="29" font-weight="bold" text-anchor="start">0.066</text>
<text x="61.9" y="1741.8" font-size="28.6" font-weight="bold" text-anchor="start">0.063</text>
<text x="67.2" y="1834.6" font-size="28.6" font-weight="bold" text-anchor="start">0.060</text>
<text x="72.5" y="1926.1" font-size="28.6" font-weight="bold" text-anchor="start">0.057</text>
<text x="77" y="2014.7" font-size="28" font-weight="bold" text-anchor="start">0.054</text>
<text x="155.8" y="2105.8" font-size="27.3" font-weight="bold" text-anchor="start">6</text>
<text x="203.3" y="2131.9" font-size="30.3" font-weight="bold" text-anchor="start">8</text>
<text x="238.3" y="2159" font-size="30.3" font-weight="bold" text-anchor="start">10</text>
<text x="292.3" y="2188.4" font-size="31.2" font-weight="bold" text-anchor="start">12</text>
<text x="349.4" y="2219.7" font-size="32.9" font-weight="bold" text-anchor="start">14</text>
<text x="408.8" y="2251.4" font-size="33.8" font-weight="bold" text-anchor="start">16</text>
<text x="529.9" y="2245.9" font-size="30.3" font-weight="bold" text-anchor="start">2.39</text>
<text x="601" y="2222.2" font-size="29.7" font-weight="bold" text-anchor="start">2.43</text>
<text x="668.3" y="2198.4" font-size="29" font-weight="bold" text-anchor="start">2.47</text>
<text x="732.3" y="2176.7" font-size="29" font-weight="bold" text-anchor="start">2.42</text>
<text x="792.5" y="2154.9" font-size="28.7" font-weight="bold" text-anchor="start">2.44</text>
<text x="851.7" y="2134" font-size="28.8" font-weight="bold" text-anchor="start">2.45</text>
<text x="43.6" y="2234.2" font-size="36" font-weight="bold" text-anchor="start">Energy (MeV)</text>
<text x="34.2" y="1915.7" font-size="31" font-weight="bold" text-anchor="start" transform="rotate(-91.6 34.2 1915.7)">LAC <tspan dy="-1">(</tspan><tspan dy="1">cm</tspan><tspan font-size="20" dy="-14">-1</tspan><tspan dy="13">)</tspan></text>
<text x="751.6" y="2248.2" font-size="29.5" font-weight="bold" text-anchor="start" transform="rotate(-19.7 751.6 2248.2)">Density (g.cm<tspan font-size="18" dy="-13">-3</tspan><tspan dy="13">)</tspan></text>
<rect x="690.2" y="1665.1" width="269.5" height="204.1" fill="#000"/>
<rect x="682.7" y="1657.6" width="269.5" height="204.1" fill="#fff" stroke="#999" stroke-width="1"/>
<line x1="686.7" y1="1677.9" x2="751.8" y2="1677.9" stroke="#E41A1C" stroke-width="2.7" stroke-linecap="round"/>
<circle cx="719.2" cy="1677.9" r="15.4" fill="#E41A1C"/>
<text x="758.4" y="1686.2" font-size="28.5" font-weight="normal" text-anchor="start">CO</text>
<line x1="686.7" y1="1711.2" x2="751.8" y2="1711.2" stroke="#377EB8" stroke-width="2.7" stroke-linecap="round"/>
<rect x="705.2" y="1697.2" width="28" height="28" fill="#377EB8"/>
<text x="758.4" y="1719.5" font-size="28.5" font-weight="normal" text-anchor="start">SF15</text>
<line x1="686.7" y1="1744.5" x2="751.8" y2="1744.5" stroke="#4DAF4A" stroke-width="2.7" stroke-linecap="round"/>
<circle cx="719.2" cy="1744.5" r="15.4" fill="url(#gl)"/>
<text x="758.4" y="1752.8" font-size="28.5" font-weight="normal" text-anchor="start">DK10</text>
<line x1="686.7" y1="1777.8" x2="751.8" y2="1777.8" stroke="#984EA3" stroke-width="2.7" stroke-linecap="round"/>
<polygon points="719.2,1760.8 724,1772.8 736.8,1773.6 726.9,1781.8 730.1,1794.3 719.2,1787.3 708.4,1794.3 711.6,1781.8 701.7,1773.6 714.5,1772.8" fill="#984EA3"/>
<text x="758.4" y="1786.1" font-size="28.5" font-weight="normal" text-anchor="start">SF15DK10</text>
<line x1="686.7" y1="1811.1" x2="751.8" y2="1811.1" stroke="#FF7F00" stroke-width="2.7" stroke-linecap="round"/>
<polygon points="719.2,1791.1 700,1822.5 738.5,1822.5" fill="#FF7F00"/>
<text x="758.4" y="1819.4" font-size="28.5" font-weight="normal" text-anchor="start">SF15LS10</text>
<line x1="686.7" y1="1844.4" x2="751.8" y2="1844.4" stroke="#FFFF33" stroke-width="2.7" stroke-linecap="round"/>
<circle cx="719.2" cy="1844.4" r="15.4" fill="#FFFF33"/>
<text x="758.4" y="1852.7" font-size="28.5" font-weight="normal" text-anchor="start">SF15LS10DK10</text>
<rect x="571.4" y="1562" width="70.1" height="65.7" fill="#000"/>
<rect x="564.4" y="1555" width="70.1" height="65.7" fill="#fff" stroke="#999" stroke-width="1"/>
<text x="570.6" y="1606.3" font-size="50" font-weight="normal" text-anchor="start">[c]</text>
</svg></body></html>
